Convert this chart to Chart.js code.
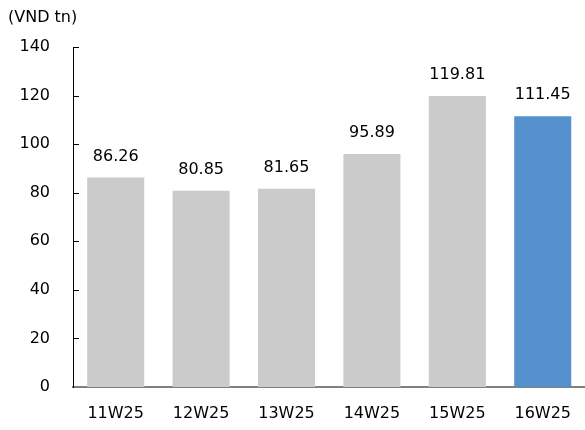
<!DOCTYPE html>
<html>
<head>
<meta charset="utf-8">
<script src="https://cdn.jsdelivr.net/npm/chart.js@4/dist/chart.umd.min.js"></script>
<style>
  html, body { margin: 0; padding: 0; background: #fff; overflow: hidden; }
  #wrap { width: 588px; height: 430px; position: relative; }
</style>
</head>
<body>
<div id="wrap"><canvas id="weekChart"></canvas></div>
<script>
const weeks = ['11W25', '12W25', '13W25', '14W25', '15W25', '16W25'];
const values = [86.26, 80.85, 81.65, 95.89, 119.81, 111.45];
const unitLabel = '(VND tn)';

const FONT = '"DejaVu Sans", Tahoma, sans-serif';
const barColors = weeks.map((w, i) => i === weeks.length - 1 ? '#5592cd' : '#cbcbcb');

// unit caption, inward tick marks on the y axis, and value labels over the bars
const extras = {
  id: 'extras',
  afterDraw(chart) {
    const ctx = chart.ctx;
    const y = chart.scales.y;
    ctx.save();
    ctx.fillStyle = '#000';
    ctx.font = '16px ' + FONT;
    ctx.textAlign = 'left';
    ctx.textBaseline = 'middle';
    ctx.fillText(unitLabel, 8, 18);

    ctx.strokeStyle = '#000';
    ctx.lineWidth = 1;
    y.ticks.forEach((t, i) => {
      if (i === 0) return;
      const py = Math.round(y.getPixelForTick(i)) + 0.5;
      ctx.beginPath();
      ctx.moveTo(y.right, py);
      ctx.lineTo(y.right + 6, py);
      ctx.stroke();
    });

    const meta = chart.getDatasetMeta(0);
    ctx.textAlign = 'center';
    ctx.textBaseline = 'bottom';
    meta.data.forEach((bar, i) => {
      ctx.fillText(values[i].toFixed(2), bar.x, bar.y - 13);
    });
    ctx.restore();
  }
};

new Chart(document.getElementById('weekChart'), {
  type: 'bar',
  data: {
    labels: weeks,
    datasets: [{
      data: values,
      backgroundColor: barColors,
      categoryPercentage: 1,
      barPercentage: 0.668
    }]
  },
  options: {
    responsive: true,
    maintainAspectRatio: false,
    animation: false,
    layout: { padding: { top: 47, left: 0, right: 0, bottom: 0 } },
    plugins: { legend: { display: false }, tooltip: { enabled: false } },
    scales: {
      x: {
        grid: { display: false, drawTicks: false },
        border: { color: '#808080', width: 2 },
        ticks: { color: '#000', font: { family: FONT, size: 16 }, padding: 17 },
        afterFit(scale) { scale.height = 43; }
      },
      y: {
        min: 0,
        max: 140,
        grid: { display: false, drawTicks: false },
        border: { color: '#000', width: 1 },
        ticks: { stepSize: 20, color: '#000', font: { family: FONT, size: 16 }, padding: 23 },
        afterFit(scale) { scale.width = 73; }
      }
    }
  },
  plugins: [extras]
});
</script>
</body>
</html>
